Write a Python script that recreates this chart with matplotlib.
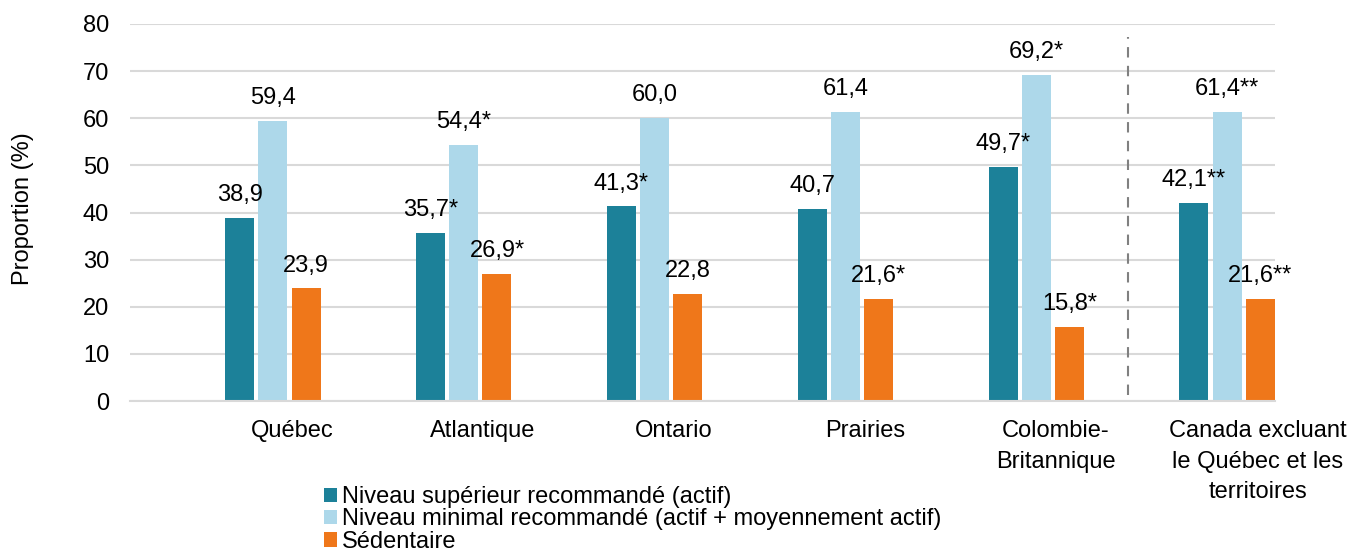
import numpy as np
import matplotlib
matplotlib.use("Agg")
from matplotlib import pyplot as plt
from matplotlib.patches import Patch

plt.rcParams['font.family'] = ['Liberation Sans', 'DejaVu Sans']

regions = ["Québec", "Atlantique", "Ontario", "Prairies", "Colombie-\nBritannique",
           "Canada excluant\nle Québec et les\nterritoires"]
series_names = ["Niveau supérieur recommandé (actif)",
                "Niveau minimal recommandé (actif + moyennement actif)",
                "Sédentaire"]
actif = [38.9, 35.7, 41.3, 40.7, 49.7, 42.1]
minimal = [59.4, 54.4, 60.0, 61.4, 69.2, 61.4]
sedentaire = [23.9, 26.9, 22.8, 21.6, 15.8, 21.6]
actif_marks = ["", "*", "*", "", "*", "**"]
minimal_marks = ["", "*", "", "", "*", "**"]
sedentaire_marks = ["", "*", "", "*", "*", "**"]
colors = ["#1c8199", "#add8ea", "#ef771a"]

fig = plt.figure(figsize=(13.64, 5.54), dpi=100)
ax = fig.add_axes([130/1364, 1-401/554, (1275-130)/1364, (401-24)/554])

x = np.arange(len(regions))
w = 0.152
offsets = [0.0755, 0.249, 0.423]
values = [actif, minimal, sedentaire]
marks = [actif_marks, minimal_marks, sedentaire_marks]

for vals, mk, off, col in zip(values, marks, offsets, colors):
    bars = ax.bar(x + off, vals, width=w, color=col, zorder=2)
    for b, v, m in zip(bars, vals, mk):
        cx = b.get_x() + b.get_width()/2
        label = f"{v:.1f}".replace(".", ",") + m
        ax.annotate(label, (cx, v), xytext=(0, 8.5), textcoords="offset points",
                    ha="center", va="bottom", fontsize=17, zorder=5)

ax.set_xlim(-0.5, 5.5)
ax.set_ylim(0, 80)
ax.set_yticks(range(0, 81, 10))
ticks = x + 0.35
ticks[-1] += 0.06
ax.set_xticks(ticks)
ax.set_xticklabels(regions, fontsize=17, linespacing=1.48, va="top")
ax.tick_params(axis="x", length=0, pad=14)
ax.tick_params(axis="y", length=0, pad=15, labelsize=17)
ax.grid(axis="y", color="#d9d9d9", linewidth=1.5, zorder=0)
for s in ["top", "right", "left"]:
    ax.spines[s].set_visible(False)
ax.spines["bottom"].set_color("#d9d9d9")
ax.spines["bottom"].set_linewidth(1.5)
ax.axvline(4.731, ymin=1.2/80, ymax=77.2/80, color="#808080", linestyle=(0, (5, 4)), linewidth=1.5)

ax.set_ylabel("Proportion (%)", fontsize=17)
ax.yaxis.set_label_coords(-0.084, 0.51)

handles = [Patch(facecolor=c, edgecolor="none") for c in colors]
fig.legend(handles, series_names, loc="upper left", bbox_to_anchor=(324/1364, 1-486/554),
           frameon=False, fontsize=17, handlelength=0.55, handleheight=0.55,
           handletextpad=0.2, labelspacing=0.02, borderpad=0, borderaxespad=0)

fig.savefig("out.png", dpi=100)
